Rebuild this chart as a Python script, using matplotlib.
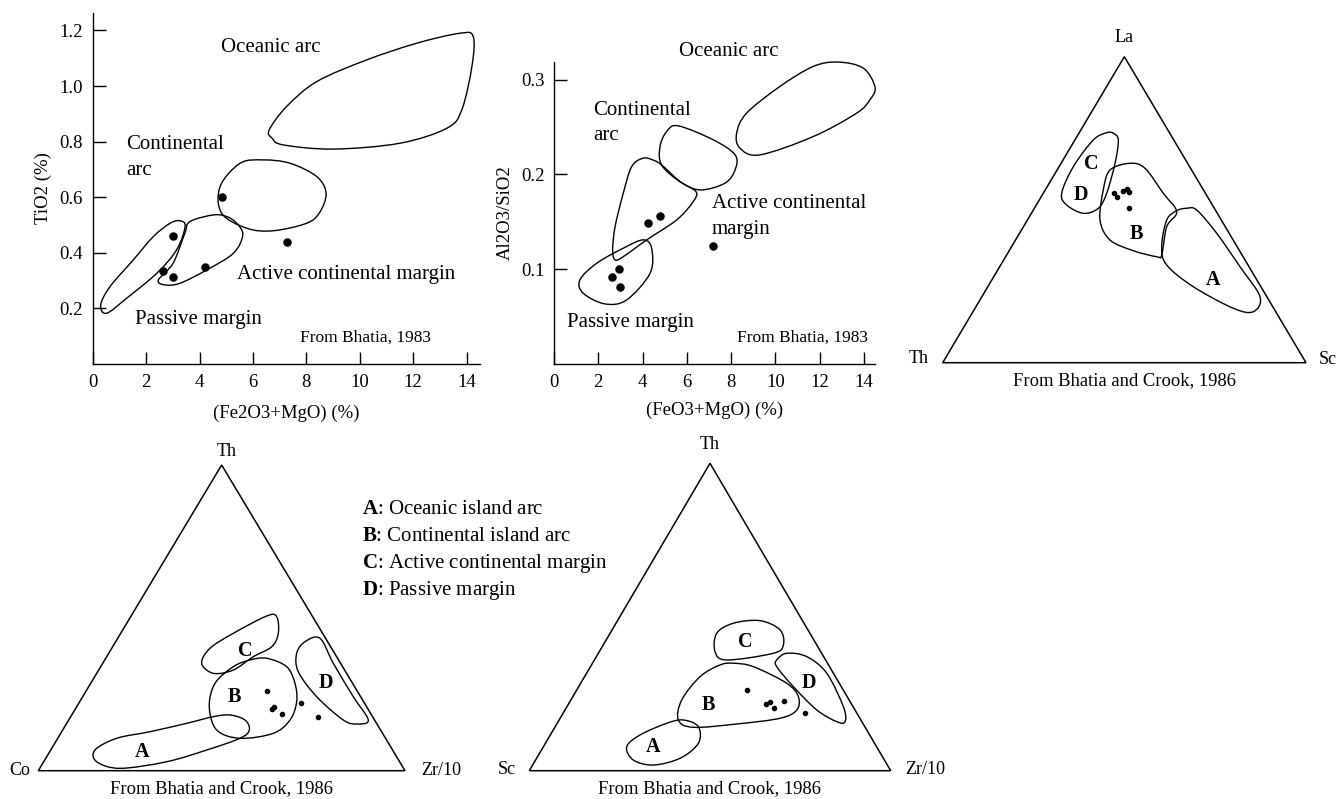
import numpy as np
import matplotlib
matplotlib.use('Agg')
import matplotlib.pyplot as plt
from matplotlib.path import Path
from matplotlib.patches import PathPatch, Polygon

plt.rcParams['font.family'] = ['Liberation Serif', 'DejaVu Serif']
plt.rcParams['mathtext.fontset'] = 'custom'
plt.rcParams['mathtext.rm'] = 'Liberation Serif'
plt.rcParams['mathtext.bf'] = 'Liberation Serif:bold'

# ---- panel 1: TiO2 vs Fe2O3+MgO (Bhatia 1983)
p1_oceanic = [(6.61, 0.842), (7.26, 0.926), (8.39, 1.016), (10.26, 1.094), (12.13, 1.154),
              (13.75, 1.19), (14.25, 1.178), (14.2, 1.07), (13.82, 0.914), (13.26, 0.848),
              (11.5, 0.794), (9.01, 0.773), (7.14, 0.788), (6.72, 0.812)]
p1_contarc = [(6.39, 0.734), (7.39, 0.722), (8.39, 0.674), (8.74, 0.614), (8.5, 0.545),
              (8.01, 0.506), (6.76, 0.479), (5.77, 0.488), (4.83, 0.542), (4.77, 0.638),
              (5.52, 0.722)]
p1_active = [(4.52, 0.536), (5.02, 0.53), (5.39, 0.506), (5.62, 0.464), (5.27, 0.398),
             (4.27, 0.338), (3.27, 0.29), (2.7, 0.284), (2.46, 0.302), (3.01, 0.362),
             (3.45, 0.47), (3.64, 0.512)]
p1_passive = [(3.27, 0.515), (3.46, 0.494), (3.14, 0.41), (2.4, 0.326), (1.27, 0.236),
              (0.52, 0.182), (0.3, 0.212), (0.65, 0.278), (1.52, 0.374), (2.27, 0.458),
              (2.9, 0.506)]
p1_x = [4.83, 3.0, 2.64, 3.0, 4.2, 7.26]
p1_y = [0.60, 0.46, 0.334, 0.314, 0.35, 0.4375]
p1_xticks = [0, 2, 4, 6, 8, 10, 12, 14]
p1_yticks = [0.2, 0.4, 0.6, 0.8, 1.0, 1.2]
p1_labels = [("Oceanic arc", 4.79, 1.138), ("Continental", 1.27, 0.788), ("arc", 1.27, 0.695),
             ("Active continental margin", 5.42, 0.323), ("Passive margin", 1.58, 0.158)]

# ---- panel 2: Al2O3/SiO2 vs FeO3+MgO
p2_oceanic = [(12.84, 0.3186), (13.97, 0.3122), (14.5, 0.2922), (14.27, 0.2788), (13.67, 0.2647),
              (11.71, 0.24), (9.3, 0.2207), (8.4, 0.2278), (8.25, 0.2436), (8.7, 0.2647),
              (10.2, 0.2928), (11.71, 0.314)]
p2_contarc = [(5.61, 0.2513), (7.2, 0.2365), (8.18, 0.2207), (8.18, 0.2049), (7.72, 0.1908),
              (6.6, 0.1837), (5.69, 0.1925), (4.86, 0.2101), (4.79, 0.2295), (5.09, 0.2453)]
p2_active = [(3.51, 0.2083), (4.03, 0.2172), (4.5, 0.215), (4.86, 0.2101), (5.69, 0.1925),
             (6.41, 0.182), (6.29, 0.1714), (5.54, 0.152), (4.19, 0.131), (3.13, 0.1133),
             (2.76, 0.1098), (2.65, 0.1204), (2.76, 0.145), (3.13, 0.1803)]
p2_passive = [(4.03, 0.131), (4.41, 0.1222), (4.34, 0.0958), (3.28, 0.0676), (2.3, 0.0634),
              (1.32, 0.0747), (1.17, 0.0887), (1.93, 0.1063), (3.13, 0.1222)]
p2_x = [2.6, 2.94, 2.98, 4.23, 4.77, 7.2]
p2_y = [0.0915, 0.1, 0.081, 0.149, 0.156, 0.124]
p2_xticks = [0, 2, 4, 6, 8, 10, 12, 14]
p2_yticks = [0.1, 0.2, 0.3]
p2_labels = [("Oceanic arc", 5.64, 0.3297), ("Continental", 1.78, 0.267), ("arc", 1.78, 0.2408),
             ("Active continental", 7.12, 0.169), ("margin", 7.12, 0.1422),
             ("Passive margin", 0.6, 0.0436)]

# ---- ternary 1: La-Th-Sc (u along base, v up to apex)
t1_regions = [
    [(0.4696, 0.7497), (0.4834, 0.7278), (0.4743, 0.6516), (0.4514, 0.5536), (0.4283, 0.5046),
     (0.387, 0.4882), (0.3413, 0.5154), (0.3275, 0.5536), (0.3595, 0.6405), (0.4145, 0.7278),
     (0.4514, 0.7516)],
    [(0.5155, 0.6516), (0.5568, 0.6353), (0.6072, 0.5536), (0.6441, 0.4935), (0.6166, 0.4444),
     (0.6028, 0.352), (0.589, 0.3464), (0.5246, 0.366), (0.4605, 0.401), (0.433, 0.4663),
     (0.442, 0.5644), (0.4605, 0.6297)],
    [(0.6716, 0.5046), (0.6991, 0.499), (0.7542, 0.4229), (0.8183, 0.3137), (0.8734, 0.2157),
     (0.855, 0.1667), (0.7999, 0.1778), (0.6898, 0.2484), (0.6166, 0.3193), (0.6028, 0.3791),
     (0.6166, 0.4663), (0.6441, 0.4967)],
]
t1_letters = [("C", 0.41, 0.648), ("D", 0.3807, 0.548), ("B", 0.534, 0.4194), ("A", 0.7449, 0.2703)]
t1_u = [0.4723, 0.4806, 0.4955, 0.5065, 0.512, 0.5128]
t1_v = [0.5556, 0.5404, 0.5611, 0.5676, 0.5578, 0.5046]
t1_corners = [("La", 0.5, 1.063), ("Th", -0.067, 0.014), ("Sc", 1.061, 0.009)]

# ---- ternary 2: Th-Co-Zr/10
t2_regions = [
    [(0.6501, 0.5038), (0.6545, 0.4494), (0.6365, 0.4056), (0.5863, 0.3729), (0.5318, 0.3294),
     (0.4772, 0.3186), (0.4456, 0.3513), (0.4682, 0.4004), (0.5318, 0.4494), (0.6228, 0.506)],
    [(0.6228, 0.3677), (0.6773, 0.3402), (0.6999, 0.2859), (0.7046, 0.2257), (0.6864, 0.1658),
     (0.6409, 0.1223), (0.55, 0.106), (0.4865, 0.1331), (0.4663, 0.2094), (0.4819, 0.2859),
     (0.5318, 0.3402), (0.5772, 0.3621)],
    [(0.5228, 0.1822), (0.5637, 0.1658), (0.5754, 0.1331), (0.55, 0.106), (0.4592, 0.0677),
     (0.3502, 0.0294), (0.2228, 0.0077), (0.1593, 0.0294), (0.1546, 0.0677), (0.2138, 0.106),
     (0.3046, 0.1276), (0.4047, 0.155), (0.4772, 0.1767)],
    [(0.7682, 0.4331), (0.8045, 0.3513), (0.859, 0.2421), (0.8999, 0.1658), (0.8683, 0.1528),
     (0.8318, 0.1658), (0.7592, 0.2421), (0.709, 0.3238), (0.7046, 0.384), (0.7273, 0.422)],
]
t2_letters = [("C", 0.5637, 0.3926), ("B", 0.5345, 0.2421), ("D", 0.7846, 0.2859), ("A", 0.282, 0.0622)]
t2_u = [0.6228, 0.6381, 0.6427, 0.6637, 0.7155, 0.7636]
t2_v = [0.2617, 0.2008, 0.2094, 0.1855, 0.2225, 0.1747]
t2_corners = [("Th", 0.514, 1.0435), ("Co", -0.052, 0.002), ("Zr/10", 1.098, 0.002)]

# ---- ternary 3: Th-Sc-Zr/10
t3_regions = [
    [(0.6385, 0.4881), (0.6939, 0.4579), (0.703, 0.409), (0.6753, 0.382), (0.5464, 0.3602),
     (0.514, 0.3873), (0.5187, 0.4471), (0.5646, 0.4797)],
    [(0.5646, 0.3495), (0.62, 0.3384), (0.7124, 0.2844), (0.7445, 0.2408), (0.7401, 0.1975),
     (0.6939, 0.1705), (0.574, 0.152), (0.4539, 0.1412), (0.4124, 0.165), (0.4218, 0.2301),
     (0.4725, 0.3059), (0.5278, 0.344)],
    [(0.4262, 0.165), (0.4678, 0.1432), (0.4678, 0.0892), (0.4171, 0.0404), (0.3432, 0.0185),
     (0.2878, 0.0348), (0.2696, 0.0781), (0.3064, 0.1162), (0.3803, 0.1543)],
    [(0.7124, 0.382), (0.7678, 0.371), (0.8231, 0.317), (0.869, 0.2083), (0.8738, 0.1595),
     (0.8508, 0.1595), (0.7955, 0.1975), (0.7307, 0.2734), (0.6847, 0.3384), (0.6847, 0.3602)],
]
t3_letters = [("C", 0.597, 0.4198), ("B", 0.4954, 0.2138), ("D", 0.775, 0.2844), ("A", 0.3432, 0.0781)]
t3_u = [0.6017, 0.6543, 0.6662, 0.6773, 0.705, 0.7632]
t3_v = [0.2626, 0.217, 0.2245, 0.2031, 0.2278, 0.1868]
t3_corners = [("Th", 0.498, 1.06), ("Sc", -0.0626, 0.0046), ("Zr/10", 1.095, 0.0046)]

legend_items = [("A", "Oceanic island arc"), ("B", "Continental island arc"),
                ("C", "Active continental margin"), ("D", "Passive margin")]

W, H = 1339, 799
fig = plt.figure(figsize=(W / 100, H / 100), dpi=100)


def box(l, t, r, b):
    return [l / W, 1 - b / H, (r - l) / W, (b - t) / H]


def outline(ax, pts, lw=1.0):
    # closed smooth outline through the traced points (cubic bezier segments)
    p = np.asarray(pts, float)
    n = len(p)
    verts = [p[0]]
    codes = [Path.MOVETO]
    for i in range(n):
        p0, p1, p2, p3 = p[i - 1], p[i], p[(i + 1) % n], p[(i + 2) % n]
        verts += [p1 + (p2 - p0) / 6, p2 - (p3 - p1) / 6, p2]
        codes += [Path.CURVE4] * 3
    ax.add_patch(PathPatch(Path(verts, codes), fill=False, lw=lw, ec='black', clip_on=False))


def xy_panel(rect, xmax, ymax, regions, xs, ys, xticks, yticks, labels, credit,
             xlab, xlab_y, ylab, ylab_x):
    ax = fig.add_axes(rect)
    ax.set_xlim(0, xmax)
    ax.set_ylim(0, ymax)
    for s in ['top', 'right']:
        ax.spines[s].set_visible(False)
    for s in ['left', 'bottom']:
        ax.spines[s].set_linewidth(1.0)
    ax.set_xticks(xticks)
    ax.set_yticks(yticks)
    ax.set_yticklabels(['%.1f' % v for v in yticks])
    ax.tick_params(direction='in', length=9, width=1.0, labelsize=13.5, pad=7)
    for r in regions:
        outline(ax, r)
    ax.scatter(xs, ys, s=26, color='black', zorder=3, clip_on=False)
    for t, x, y in labels:
        ax.text(x, y, t, fontsize=15, va='center', ha='left')
    ax.text(credit[1], credit[2], credit[0], fontsize=12.5, va='center', ha='left')
    ax.set_xlabel(xlab, fontsize=13.5)
    ax.xaxis.set_label_coords(0.5, xlab_y)
    ax.set_ylabel(ylab, fontsize=13.5)
    ax.yaxis.set_label_coords(ylab_x, 0.5)
    return ax


xy_panel(box(92.7, 12.7, 479.9, 363.8), 14.5, 1.264,
         [p1_oceanic, p1_contarc, p1_active, p1_passive], p1_x, p1_y, p1_xticks, p1_yticks,
         p1_labels, ("From Bhatia, 1983", 7.76, 0.095),
         "(Fe2O3+MgO) (%)", -0.117, "TiO2 (%)", -0.105)

xy_panel(box(554, 61.7, 875, 364), 14.5, 0.319,
         [p2_oceanic, p2_contarc, p2_active, p2_passive], p2_x, p2_y, p2_xticks, p2_yticks,
         p2_labels, ("From Bhatia, 1983", 8.28, 0.0282),
         "(FeO3+MgO) (%)", -0.125, "Al2O3/SiO2", -0.125)


def ternary(rect, regions, letters, us, vs, corners):
    ax = fig.add_axes(rect)
    ax.set_xlim(0, 1)
    ax.set_ylim(0, 1)
    ax.axis('off')
    ax.add_patch(Polygon([[0, 0], [1, 0], [0.5, 1]], closed=True, fill=False,
                         lw=1.1, ec='black', clip_on=False))
    for r in regions:
        outline(ax, r)
    ax.scatter(us, vs, s=9, color='black', zorder=3)
    for t, u, v in letters:
        ax.text(u, v, t, fontsize=14.5, fontweight='bold', ha='center', va='center')
    for t, u, v in corners:
        ax.text(u, v, t, fontsize=13, ha='center', va='center')
    ax.text(0.5, -0.057, "From Bhatia and Crook, 1986", fontsize=13.4, ha='center', va='center')
    return ax


ternary(box(942.7, 56.7, 1306, 362.7), t1_regions, t1_letters, t1_u, t1_v, t1_corners)
ternary(box(38.3, 465, 405, 770.7), t2_regions, t2_letters, t2_u, t2_v, t2_corners)
ternary(box(529.3, 463.3, 890.7, 770.7), t3_regions, t3_letters, t3_u, t3_v, t3_corners)

for i, (k, name) in enumerate(legend_items):
    fig.text(361.7 / W, 1 - (510 + i * 26.7) / H, r"$\mathbf{%s}$: %s" % (k, name),
             fontsize=15, ha='left', va='center')

fig.savefig('out.png', dpi=100)
